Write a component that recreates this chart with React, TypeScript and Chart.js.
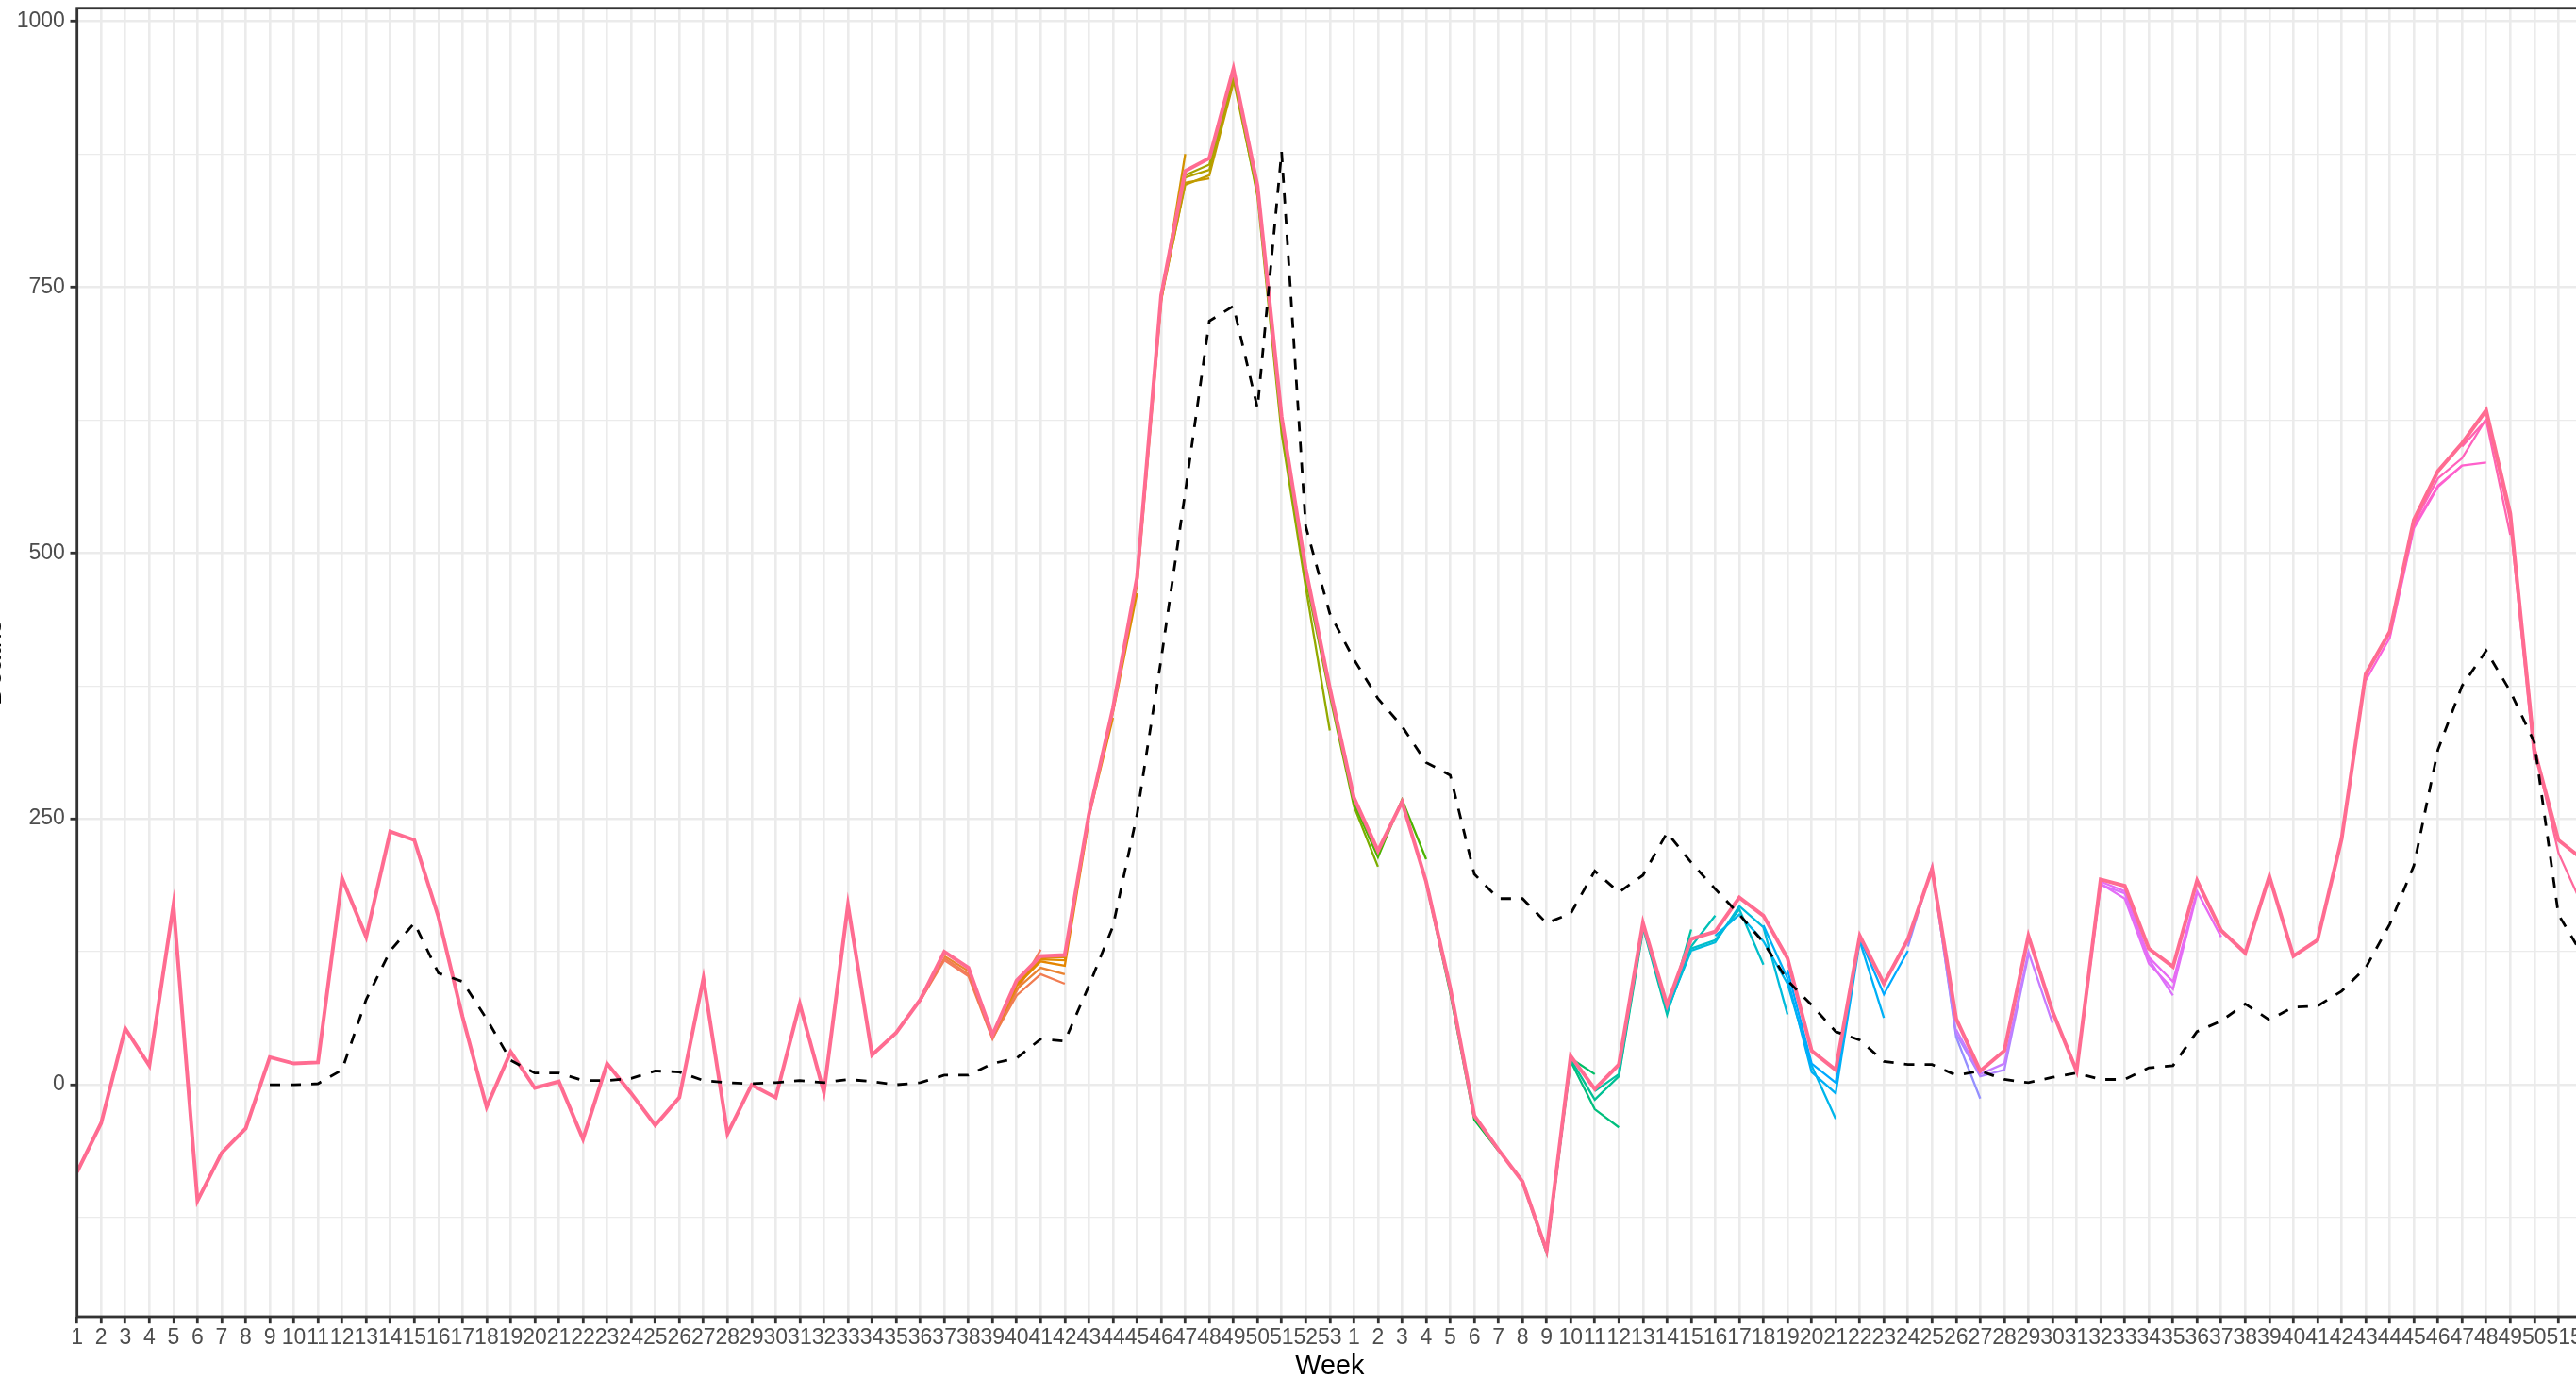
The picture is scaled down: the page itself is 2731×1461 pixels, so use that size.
import { useEffect, useRef } from 'react';
import { Chart, registerables } from 'chart.js';

Chart.register(...registerables);

// ---------- data ----------
const WEEK_LABELS: string[] = [
  ...Array.from({ length: 53 }, (_, i) => String(i + 1)),
  ...Array.from({ length: 52 }, (_, i) => String(i + 1)),
];

// final (latest) series, one value per week index 0..104
const MAIN: number[] = [
  -82, -36, 53, 18, 169, -109, -64, -41, 26, 20,
  21, 194, 139, 238, 230, 158, 64, -21, 31, -3,
  3, -51, 20, -8, -38, -12, 100, -46, 0, -12,
  76, -7, 169, 28, 49, 80, 125, 110, 47, 98,
  121, 122, 254, 354, 477, 742, 859, 871, 955, 845,
  628, 485, 373, 270, 220, 266, 191, 91, -29, -61,
  -91, -156, 27, -4, 19, 152, 75, 137, 144, 176,
  159, 119, 32, 14, 140, 95, 137, 203, 62, 13,
  32, 140, 69, 13, 193, 187, 128, 111, 192, 145,
  124, 196, 121, 136, 231, 386, 426, 531, 577, 603,
  634, 537, 315, 230, 212,
];

// dashed reference series, starting at week index 8
const BASELINE_START = 8;
const BASELINE: number[] = [
  0, 0, 1, 14, 80, 126, 152, 105, 97, 62,
  23, 11, 11, 4, 4, 6, 13, 12, 4, 2,
  1, 2, 4, 2, 5, 3, 0, 2, 9, 9,
  20, 25, 43, 41, 93, 149, 254, 400, 557, 718,
  732, 636, 877, 525, 443, 400, 363, 337, 303, 291,
  198, 175, 175, 152, 161, 201, 181, 197, 237, 209,
  184, 160, 134, 98, 75, 50, 42, 22, 19, 19,
  9, 13, 5, 2, 7, 11, 5, 5, 16, 18,
  50, 60, 76, 61, 73, 74, 88, 110, 151, 206,
  315, 375, 408, 370, 322, 160, 122,
];

// earlier vintages: last week index and their final values (where they differ)
const VINTAGE_ENDS: number[] = [
  40, 41, 41, 42, 43, 44, 46, 47, 48, 49,
  50, 52, 54, 56, 59, 63, 64, 65, 67, 68,
  70, 71, 73, 75, 76, 79, 81, 82, 87, 88,
  89, 99, 100, 100, 101, 102, 104,
];
const VINTAGE_TAILS: number[][] = [
  [79, 117, 102, 43, 88, 127],
  [79, 119, 104, 44, 84, 104, 95],
  [121, 107, 45, 90, 110, 104],
  [108, 46, 93, 116, 112, 248],
  [46, 95, 118, 117, 252, 345],
  [120, 120, 253, 350, 462],
  [352, 470, 736, 875],
  [474, 738, 848, 852],
  [740, 846, 855, 942],
  [741, 853, 860, 945, 838],
  [855, 865, 950, 840, 618],
  [950, 835, 612, 468, 333],
  [620, 476, 366, 262, 205],
  [370, 265, 214, 268, 212],
  [190, 86, -33, -62],
  [-92, -158, 25, 10],
  [-158, 22, -23, -40],
  [-158, 24, -14, 8, 145],
  [-6, 10, 148, 66, 146],
  [12, 150, 68, 130, 159],
  [70, 128, 136, 165, 113],
  [70, 126, 134, 168, 148, 66],
  [140, 160, 135, 95, 18, -32],
  [150, 100, 12, -8, 135, 63],
  [108, 20, 2, 138, 85, 126],
  [130, 205, 45, -13],
  [203, 48, 8, 14, 122],
  [52, 10, 20, 125, 58],
  [13, 188, 180, 118, 84],
  [13, 189, 175, 114, 90, 180],
  [191, 182, 120, 97, 182, 139],
  [380, 420, 523, 562, 582],
  [422, 525, 563, 582, 585],
  [528, 570, 589, 626],
  [600, 625, 517],
  [632, 530, 305],
  [535, 318, 218, 168],
];

const Y_TICKS: number[] = [-125, 0, 125, 250, 375, 500, 625, 750, 875, 1000];
const Y_LABELED: number[] = [0, 250, 500, 750, 1000];
const Y_MIN = -218;
const Y_MAX = 1012;
const X_MIN = 0;
const X_MAX = 104;

// ---------- styles ----------
const VINTAGE_COLORS: string[] = [
  '#F47B5E', '#F17D52', '#EA8331', '#E58600', '#E08A00', '#DB8E00', '#D39200', '#CA9700', '#BF9C00', '#B2A100',
  '#A5A400', '#93AA00', '#7CAE00', '#4CB400', '#00BA38', '#00BE67', '#00BF7D', '#00C094', '#00C1A3', '#00C0B7',
  '#00BEC9', '#00BBDB', '#00B6EB', '#00B0F6', '#00A9FF', '#9590FF', '#B086FF', '#C77CFF', '#DB72FB', '#E36EF6',
  '#E76BF3', '#FA62DB', '#FF61CC', '#FF62BC', '#FF64B0', '#FF66A6', '#FF699C',
];
const MAIN_COLOR = '#FF6C91';
const FONT = "'Liberation Sans', Arial, Helvetica, sans-serif";

const panelBorder = {
  id: 'panelBorder',
  afterDatasetsDraw(chart: any) {
    const { ctx, chartArea } = chart;
    const { left, top, right, bottom } = chartArea;
    ctx.save();
    ctx.strokeStyle = '#333333';
    ctx.lineWidth = 2.8;
    ctx.strokeRect(left, top, right - left, bottom - top);
    ctx.restore();
  },
};

export default function App() {
  const ref = useRef<HTMLCanvasElement | null>(null);

  useEffect(() => {
    const canvas = ref.current;
    if (!canvas) return;

    const vintageSets = VINTAGE_ENDS.map((end, k) => {
      const tail = VINTAGE_TAILS[k];
      const start = end - tail.length + 1;
      return {
        label: 'v' + k,
        data: tail.map((y, j) => ({ x: start + j, y })),
        borderColor: VINTAGE_COLORS[k],
        borderWidth: 2.3,
        pointRadius: 0,
        tension: 0,
        fill: false,
        order: 1000 - k,
      };
    });

    const chart = new Chart(canvas, {
      type: 'line',
      data: {
        datasets: [
          {
            label: 'baseline',
            data: BASELINE.map((y, j) => ({ x: BASELINE_START + j, y })),
            borderColor: '#000000',
            borderWidth: 2.8,
            borderDash: [11, 11],
            pointRadius: 0,
            tension: 0,
            fill: false,
            order: 0,
          },
          {
            label: 'latest',
            data: MAIN.map((y, i) => ({ x: i, y })),
            borderColor: MAIN_COLOR,
            borderWidth: 4,
            pointRadius: 0,
            tension: 0,
            fill: false,
            order: 1,
          },
          ...vintageSets,
        ],
      },
      options: {
        responsive: false,
        maintainAspectRatio: false,
        animation: false,
        devicePixelRatio: 1,
        layout: { padding: { top: 28.7, left: 0, right: 22.1, bottom: 0 } },
        plugins: {
          legend: { display: false },
          tooltip: { enabled: false },
        },
        scales: {
          x: {
            type: 'linear',
            min: X_MIN,
            max: X_MAX,
            afterBuildTicks: (scale: any) => {
              scale.ticks = WEEK_LABELS.map((_, i) => ({ value: i }));
            },
            afterFit: (scale: any) => {
              scale.height = 84;
            },
            ticks: {
              autoSkip: false,
              maxRotation: 0,
              minRotation: 0,
              padding: 2,
              color: '#4D4D4D',
              font: { family: FONT, size: 23 },
              callback: (_v: any, index: number) => WEEK_LABELS[index],
            },
            grid: {
              color: '#EBEBEB',
              lineWidth: 2.6,
              drawTicks: true,
              tickLength: 7.2,
              tickColor: '#333333',
              tickWidth: 2.8,
            },
            border: { display: false },
            title: {
              display: true,
              text: 'Week',
              color: '#000000',
              font: { family: FONT, size: 28.75 },
              padding: { top: 0, bottom: 13.25 },
            },
          },
          y: {
            type: 'linear',
            min: Y_MIN,
            max: Y_MAX,
            afterBuildTicks: (scale: any) => {
              scale.ticks = Y_TICKS.map((v) => ({ value: v }));
            },
            afterFit: (scale: any) => {
              scale.width = 121.7;
            },
            ticks: {
              autoSkip: false,
              padding: 5.7,
              color: '#4D4D4D',
              font: { family: FONT, size: 23 },
              callback: (v: any) => (Y_LABELED.includes(Number(v)) ? String(v) : ''),
            },
            grid: {
              color: '#EBEBEB',
              lineWidth: (ctx: any) => (ctx.tick && Y_LABELED.includes(ctx.tick.value) ? 2.6 : 1.3),
              drawTicks: true,
              tickLength: 7.2,
              tickColor: (ctx: any) =>
                ctx.tick && Y_LABELED.includes(ctx.tick.value) ? '#333333' : 'rgba(0,0,0,0)',
              tickWidth: 2.8,
            },
            border: { display: false },
            title: {
              display: true,
              text: 'Deaths',
              color: '#000000',
              font: { family: FONT, size: 28.75 },
              padding: { top: 15.75, bottom: 0 },
            },
          },
        },
      },
      plugins: [panelBorder],
    } as any);

    return () => chart.destroy();
  }, []);

  return (
    <div
      style={{
        position: 'fixed',
        left: 0,
        top: 0,
        width: 2731,
        height: 1461,
        overflow: 'hidden',
        background: '#ffffff',
      }}
    >
      <div style={{ position: 'absolute', left: -40, top: -20, width: 2800, height: 1500 }}>
        <canvas
          ref={ref}
          width={2800}
          height={1500}
          style={{ width: 2800, height: 1500, display: 'block' }}
        />
      </div>
    </div>
  );
}
